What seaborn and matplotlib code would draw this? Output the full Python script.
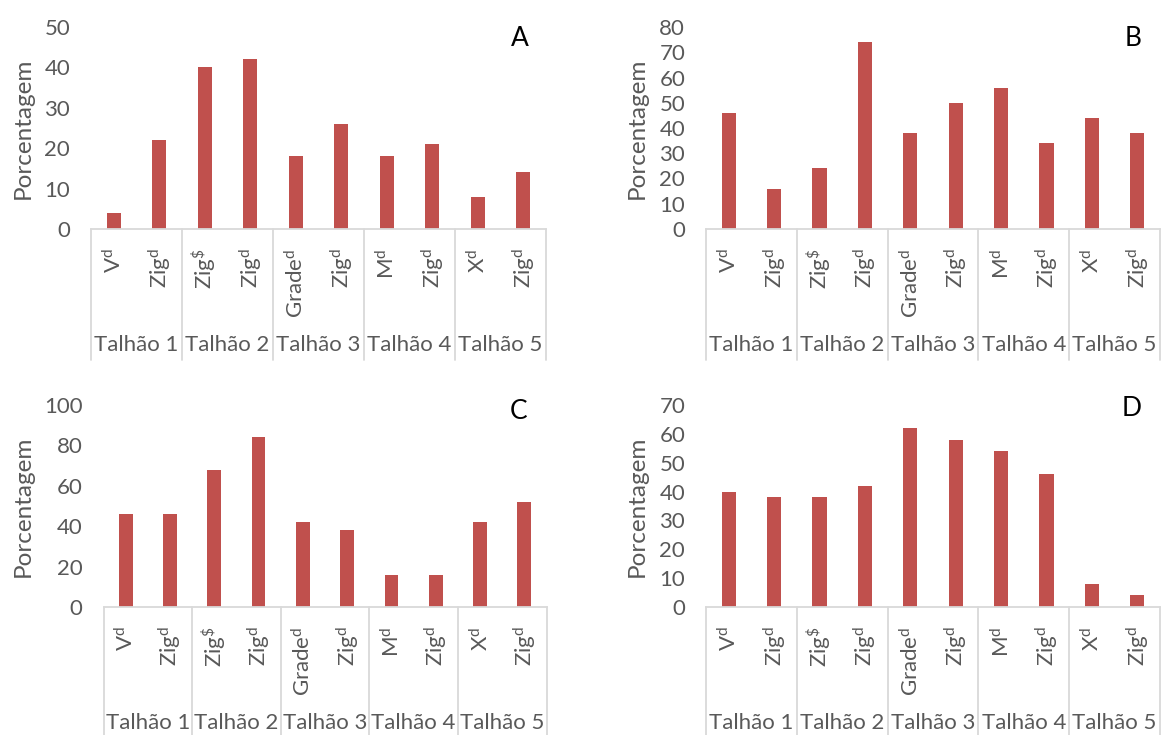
import matplotlib
matplotlib.use("Agg")
import matplotlib.pyplot as plt
import matplotlib.transforms as mtransforms
import seaborn as sns
import pandas as pd

# Grupos (talhões) e métodos de amostragem
talhoes = ["Talhão 1", "Talhão 2", "Talhão 3", "Talhão 4", "Talhão 5"]
metodos = ["V", "Zig", "Zig", "Zig", "Grade", "Zig", "M", "Zig", "X", "Zig"]
sobrescritos = ["d", "d", "\\$", "d", "d", "d", "d", "d", "d", "d"]

# Porcentagens por painel
valores_a = [4, 22, 40, 42, 18, 26, 18, 21, 8, 14]
valores_b = [46, 16, 24, 74, 38, 50, 56, 34, 44, 38]
valores_c = [46, 46, 68, 84, 42, 38, 16, 16, 42, 52]
valores_d = [40, 38, 38, 42, 62, 58, 54, 46, 8, 4]

# Limites e passos do eixo y
ymax = {"A": 50, "B": 80, "C": 100, "D": 70}
ypasso = {"A": 10, "B": 10, "C": 20, "D": 10}

sns.set_style("white")
plt.rcParams["font.family"] = ["Lato", "DejaVu Sans"]
plt.rcParams["mathtext.fontset"] = "custom"
plt.rcParams["mathtext.rm"] = "Lato"
plt.rcParams["mathtext.it"] = "Lato"

W, H = 1161, 735
fig = plt.figure(figsize=(W / 100, H / 100), dpi=100)

COR_BARRA = "#C0504D"
COR_TEXTO = "#595959"
COR_EIXO = "#D9D9D9"
FS = 16

rotulos = [f"{m}$^{{\\mathregular{{{s}}}}}$" for m, s in zip(metodos, sobrescritos)]
chaves = [f"{i}" for i in range(len(metodos))]

# (esquerda, topo, direita, base) em pixels
paineis = {
    "A": (valores_a, (91, 27, 546, 229), (520, 38), 23),
    "B": (valores_b, (706, 27, 1160, 229), (1133, 38), 637),
    "C": (valores_c, (103.5, 405, 546.5, 607), (519, 411), 23),
    "D": (valores_d, (706, 405, 1160, 607), (1132, 408), 637),
}

for nome, (vals, (x0, y0, x1, y1), (lx, ly), ylab_x) in paineis.items():
    ax = fig.add_axes([x0 / W, 1 - y1 / H, (x1 - x0) / W, (y1 - y0) / H])
    df = pd.DataFrame({"chave": chaves, "valor": vals})
    sns.barplot(data=df, x="chave", y="valor", order=chaves, color=COR_BARRA,
                saturation=1, width=0.31, ax=ax, edgecolor="none")
    ax.set_xlim(-0.5, len(chaves) - 0.5)
    ax.set_ylim(0, ymax[nome])
    ax.set_yticks(range(0, ymax[nome] + 1, ypasso[nome]))
    ax.set_xlabel("")
    ax.set_ylabel("")
    for s in ["top", "right", "left"]:
        ax.spines[s].set_visible(False)
    ax.spines["bottom"].set_color(COR_EIXO)
    ax.spines["bottom"].set_linewidth(1.3)
    ax.tick_params(axis="y", length=0, pad=15, labelsize=FS, labelcolor=COR_TEXTO)
    ax.tick_params(axis="x", length=0, pad=14, labelsize=FS, labelcolor=COR_TEXTO)
    ax.set_xticks(range(len(chaves)))
    ax.set_xticklabels(rotulos, rotation=90, va="top", ha="center")

    # Separadores dos grupos no eixo de categorias
    altura_px = y1 - y0
    prof = 131 / altura_px
    trans = mtransforms.blended_transform_factory(ax.transData, ax.transAxes)
    for b in [-0.5, 1.5, 3.5, 5.5, 7.5, 9.5]:
        ax.plot([b, b], [0, -prof], transform=trans, color=COR_EIXO,
                lw=1.3, clip_on=False)
    for i, t in enumerate(talhoes):
        ax.text(2 * i + 0.5, -116 / altura_px, t, transform=trans,
                ha="center", va="center", fontsize=FS, color=COR_TEXTO)

    fig.text(ylab_x / W, 1 - ((y0 + y1) / 2) / H, "Porcentagem", rotation=90,
             ha="center", va="center", fontsize=17.5, color=COR_TEXTO)
    fig.text(lx / W, 1 - ly / H, nome, ha="center", va="center",
             fontsize=19, color="black")

fig.savefig("out.png", dpi=100, facecolor="white")
